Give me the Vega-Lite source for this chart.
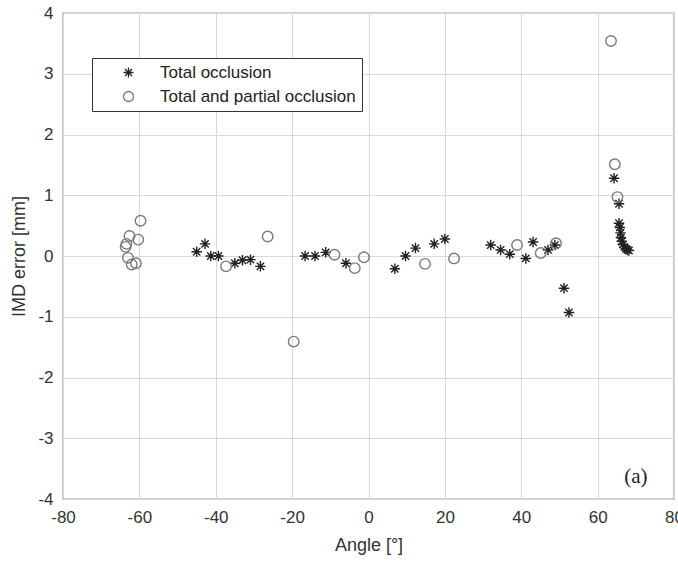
{
  "$schema": "https://vega.github.io/schema/vega-lite/v6.json",
  "width": 611,
  "height": 486,
  "autosize": {"type": "none"},
  "padding": {"left": 63, "top": 13, "right": 4, "bottom": 69},
  "background": "white",
  "config": {
    "font": "Liberation Sans",
    "view": {"stroke": "#444444", "strokeWidth": 1.2},
    "axis": {
      "domain": false,
      "grid": true,
      "gridColor": "#d9d9d9",
      "gridWidth": 1,
      "ticks": false,
      "labelFont": "Liberation Sans",
      "labelFontSize": 17,
      "labelColor": "#333333",
      "titleFont": "Liberation Sans",
      "titleFontSize": 18,
      "titleFontWeight": "normal",
      "titleColor": "#333333"
    }
  },
  "encoding": {
    "x": {
      "field": "angle",
      "type": "quantitative",
      "scale": {"domain": [-80, 80], "nice": false, "zero": false},
      "axis": {
        "title": "Angle [°]",
        "values": [-80, -60, -40, -20, 0, 20, 40, 60, 80],
        "labelExpr": "'' + datum.value",
        "labelFlush": false,
        "labelOverlap": false,
        "labelPadding": 10,
        "titlePadding": 11
      }
    },
    "y": {
      "field": "error",
      "type": "quantitative",
      "scale": {"domain": [-4, 4], "nice": false, "zero": false},
      "axis": {
        "title": "IMD error [mm]",
        "values": [-4, -3, -2, -1, 0, 1, 2, 3, 4],
        "labelExpr": "'' + datum.value",
        "labelFlush": false,
        "labelOverlap": false,
        "labelPadding": 10,
        "titlePadding": 9
      }
    }
  },
  "layer": [
    {
      "data": {
        "values": [
          {"series": "Total occlusion", "angle": -45.0, "error": 0.07},
          {"series": "Total occlusion", "angle": -42.8, "error": 0.2},
          {"series": "Total occlusion", "angle": -41.3, "error": 0.0},
          {"series": "Total occlusion", "angle": -39.3, "error": 0.0},
          {"series": "Total occlusion", "angle": -35.0, "error": -0.12},
          {"series": "Total occlusion", "angle": -33.0, "error": -0.07},
          {"series": "Total occlusion", "angle": -30.9, "error": -0.06},
          {"series": "Total occlusion", "angle": -28.3, "error": -0.17},
          {"series": "Total occlusion", "angle": -16.6, "error": 0.0},
          {"series": "Total occlusion", "angle": -14.0, "error": 0.0},
          {"series": "Total occlusion", "angle": -11.2, "error": 0.06},
          {"series": "Total occlusion", "angle": -5.9, "error": -0.12},
          {"series": "Total occlusion", "angle": 6.9, "error": -0.21},
          {"series": "Total occlusion", "angle": 9.7, "error": 0.0},
          {"series": "Total occlusion", "angle": 12.3, "error": 0.13},
          {"series": "Total occlusion", "angle": 17.2, "error": 0.2},
          {"series": "Total occlusion", "angle": 20.0, "error": 0.28},
          {"series": "Total occlusion", "angle": 32.0, "error": 0.18},
          {"series": "Total occlusion", "angle": 34.6, "error": 0.1},
          {"series": "Total occlusion", "angle": 37.0, "error": 0.03},
          {"series": "Total occlusion", "angle": 41.2, "error": -0.04},
          {"series": "Total occlusion", "angle": 43.1, "error": 0.23},
          {"series": "Total occlusion", "angle": 47.0, "error": 0.1},
          {"series": "Total occlusion", "angle": 48.8, "error": 0.18},
          {"series": "Total occlusion", "angle": 51.2, "error": -0.53},
          {"series": "Total occlusion", "angle": 52.5, "error": -0.93},
          {"series": "Total occlusion", "angle": 64.3, "error": 1.28},
          {"series": "Total occlusion", "angle": 65.6, "error": 0.86},
          {"series": "Total occlusion", "angle": 65.6, "error": 0.54},
          {"series": "Total occlusion", "angle": 65.8, "error": 0.47},
          {"series": "Total occlusion", "angle": 66.0, "error": 0.38},
          {"series": "Total occlusion", "angle": 66.1, "error": 0.3},
          {"series": "Total occlusion", "angle": 66.3, "error": 0.24},
          {"series": "Total occlusion", "angle": 66.6, "error": 0.19},
          {"series": "Total occlusion", "angle": 67.0, "error": 0.15},
          {"series": "Total occlusion", "angle": 67.4, "error": 0.12},
          {"series": "Total occlusion", "angle": 67.8, "error": 0.1},
          {"series": "Total occlusion", "angle": 68.2, "error": 0.09},
          {"series": "Total and partial occlusion", "angle": -63.4, "error": 0.2},
          {"series": "Total and partial occlusion", "angle": -63.6, "error": 0.15},
          {"series": "Total and partial occlusion", "angle": -62.6, "error": 0.33},
          {"series": "Total and partial occlusion", "angle": -59.7, "error": 0.58},
          {"series": "Total and partial occlusion", "angle": -60.3, "error": 0.27},
          {"series": "Total and partial occlusion", "angle": -63.0, "error": -0.03},
          {"series": "Total and partial occlusion", "angle": -62.0, "error": -0.14},
          {"series": "Total and partial occlusion", "angle": -60.9, "error": -0.12},
          {"series": "Total and partial occlusion", "angle": -37.3, "error": -0.17},
          {"series": "Total and partial occlusion", "angle": -26.4, "error": 0.32},
          {"series": "Total and partial occlusion", "angle": -19.6, "error": -1.41},
          {"series": "Total and partial occlusion", "angle": -8.9, "error": 0.02},
          {"series": "Total and partial occlusion", "angle": -3.6, "error": -0.2},
          {"series": "Total and partial occlusion", "angle": -1.2, "error": -0.02},
          {"series": "Total and partial occlusion", "angle": 14.8, "error": -0.13},
          {"series": "Total and partial occlusion", "angle": 22.4, "error": -0.04},
          {"series": "Total and partial occlusion", "angle": 38.9, "error": 0.18},
          {"series": "Total and partial occlusion", "angle": 45.1, "error": 0.05},
          {"series": "Total and partial occlusion", "angle": 49.1, "error": 0.21},
          {"series": "Total and partial occlusion", "angle": 63.5, "error": 3.54},
          {"series": "Total and partial occlusion", "angle": 64.5, "error": 1.51},
          {"series": "Total and partial occlusion", "angle": 65.2, "error": 0.97}
        ]
      },
      "mark": {"type": "point", "filled": false, "strokeWidth": 1.4, "size": 110, "opacity": 1},
      "encoding": {
        "shape": {
          "field": "series",
          "type": "nominal",
          "sort": null,
          "scale": {
            "domain": ["Total occlusion", "Total and partial occlusion"],
            "range": ["M-1,0L1,0M0,-1L0,1M-0.7,-0.7L0.7,0.7M-0.7,0.7L0.7,-0.7", "circle"]
          },
          "legend": {
            "title": null,
            "orient": "none",
            "legendX": 29,
            "legendY": 45,
            "padding": 6,
            "strokeColor": "#333333",
            "fillColor": "white",
            "labelFont": "Liberation Sans",
            "labelFontSize": 17,
            "labelColor": "#222222",
            "labelLimit": 400,
            "symbolSize": 100,
            "symbolStrokeWidth": 1.3,
            "rowPadding": 6,
            "labelOffset": 23,
            "symbolOffset": 22
          }
        },
        "color": {
          "field": "series",
          "type": "nominal",
          "sort": null,
          "scale": {
            "domain": ["Total occlusion", "Total and partial occlusion"],
            "range": ["#222222", "#7a7a7a"]
          },
          "legend": {
            "title": null,
            "orient": "none",
            "legendX": 29,
            "legendY": 45,
            "padding": 6,
            "strokeColor": "#333333",
            "fillColor": "white",
            "labelFont": "Liberation Sans",
            "labelFontSize": 17,
            "labelColor": "#222222",
            "labelLimit": 400,
            "symbolSize": 100,
            "symbolStrokeWidth": 1.3,
            "rowPadding": 6,
            "labelOffset": 23,
            "symbolOffset": 22
          }
        }
      }
    },
    {
      "data": {"values": [{"angle": 70.0, "error": -3.63, "label": "(a)"}]},
      "mark": {"type": "text", "font": "Liberation Serif", "fontSize": 21, "color": "#222222", "align": "center", "baseline": "middle"},
      "encoding": {"text": {"field": "label", "type": "nominal"}}
    }
  ]
}
